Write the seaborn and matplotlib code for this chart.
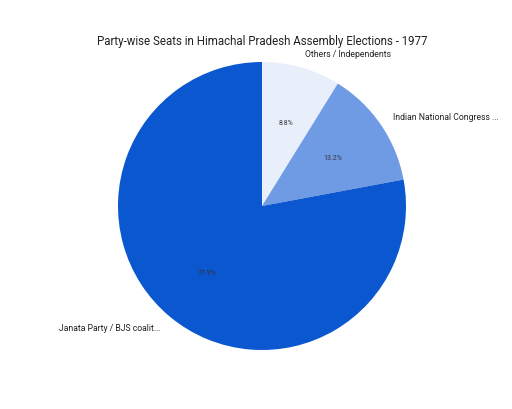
import matplotlib
matplotlib.use("Agg")
import matplotlib.pyplot as plt
import seaborn as sns

# Data
parties = ["Others / Independents", "Indian National Congress ...", "Janata Party / BJS coalit..."]
seats = [6, 9, 53]
colors = ["#E8EEFA", "#6F9BE5", "#0B57D0"]

sns.set_theme(style="white")
plt.rcParams['font.family'] = ['Roboto', 'DejaVu Sans']

fig = plt.figure(figsize=(5.12, 4.10), dpi=100)
ax = fig.add_axes([(262 - 144) / 512, (410 - 207 - 144) / 410, 288 / 512, 288 / 410])

wedges, texts, autotexts = ax.pie(
    seats,
    labels=parties,
    colors=colors,
    startangle=90,
    counterclock=False,
    autopct="%1.1f%%",
    pctdistance=0.6,
    labeldistance=1.1,
    wedgeprops=dict(linewidth=0),
    textprops=dict(fontsize=6.2, color="#222222"),
)
for t in autotexts:
    t.set_fontsize(5)
    t.set_color("#333333")

ax.set_xlim(-1, 1)
ax.set_ylim(-1, 1)
ax.set_aspect("equal")
ax.axis("off")

fig.text(262 / 512, 1 - 41 / 410, "Party-wise Seats in Himachal Pradesh Assembly Elections - 1977",
         ha="center", va="center", fontsize=8.3, color="#222222")

fig.savefig("out.png", dpi=100)
